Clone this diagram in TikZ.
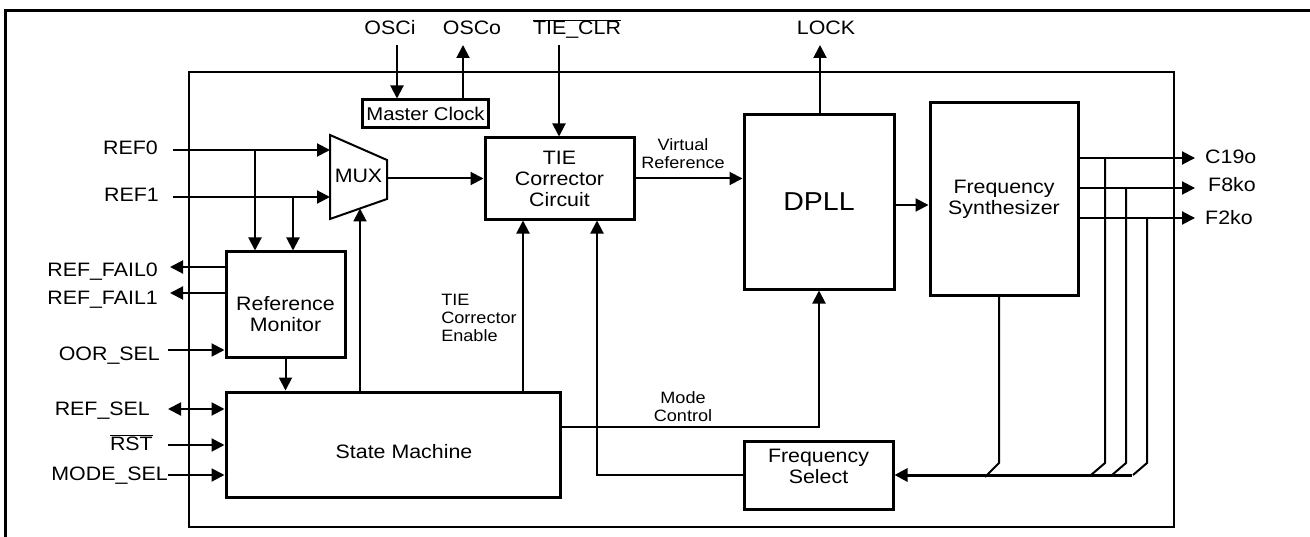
\documentclass[tikz,border=0pt]{standalone}
\usepackage{fontspec}
\setmainfont[FakeStretch=1.1]{Liberation Sans}
\usetikzlibrary{arrows.meta,positioning}

\tikzset{
  blk/.style={draw,line width=3bp,align=center,inner sep=0pt,font=\fontsize{19.5}{21}\selectfont},
  pin/.style={inner sep=0pt,font=\fontsize{19.5}{21}\selectfont},
  sig/.style={inner sep=0pt,align=center,font=\fontsize{16.5}{18}\selectfont},
  wire/.style={line width=2bp},
  arr/.style={wire,-{Triangle[length=13bp,width=13bp]}},
  dbl/.style={wire,{Triangle[length=13bp,width=13bp]}-{Triangle[length=13bp,width=13bp]}},
  bus/.style={line width=3bp},
}

\begin{document}
\begin{tikzpicture}[x=1bp,y=-1bp]
    \useasboundingbox (0,0) rectangle (1310,537);
    %\draw[help lines] (0,0) grid[step=50] (1310,537);
    \draw[line width=3bp] (5,537) -- (5,11) -- (1310,11);
    \draw[wire] (189,72) rectangle (1174,527);

    % blocks
    \node[blk,minimum width=126bp,minimum height=28bp,font=\fontsize{18.5}{21}\selectfont] (mclk) at (425.5,114) {Master Clock};
    \node[blk,minimum width=149bp,minimum height=81bp] (tie) at (559.5,178.5) {TIE\\Corrector\\Circuit};
    \node[blk,minimum width=150bp,minimum height=174bp,font=\fontsize{26}{28}\selectfont] (dpll) at (819,202) {DPLL};
    \node[blk,minimum width=148bp,minimum height=192bp] (fsyn) at (1004,199) {Frequency\\Synthesizer};
    \node[blk,minimum width=119bp,minimum height=105bp] (refmon) at (285.5,304.5) {};
    \node[blk,draw=none] (refmontxt) at ([yshift=-10bp]refmon.center) {Reference\\Monitor};
    \node[blk,minimum width=334bp,minimum height=105bp] (sm) at (393,444.5) {};
    \node[blk,draw=none] (smtxt) at ([xshift=11bp,yshift=-7bp]sm.center) {State Machine};
    \node[blk,minimum width=149bp,minimum height=68bp] (fsel) at (818.5,475) {};
    \node[blk,draw=none] (fseltxt) at ([yshift=9bp]fsel.center) {Frequency\\Select};

    % mux
    \draw[wire] (330,135) coordinate (muxtl) -- (387,160) -- (387,199) -- (330,219) -- cycle;
    \node[blk,draw=none] (mux) at (358.5,176) {MUX};

    % pins
    \node[pin,anchor=base] (osci) at (390,35) {OSCi};
    \node[pin,anchor=base] (osco) at (472,35) {OSCo};
    \node[pin,anchor=base] (tieclr) at (577,35) {$\overline{\hbox{TIE\_CLR}}$};
    \node[pin,anchor=base] (lock) at (826,35) {LOCK};
    \node[pin,anchor=base east] (ref0) at (158,155) {REF0};
    \node[pin,anchor=base east] (ref1) at (159,201.7) {REF1};
    \node[pin,anchor=base east] (fail0) at (158,276.7) {REF\_FAIL0};
    \node[pin,anchor=base east] (fail1) at (158,304) {REF\_FAIL1};
    \node[pin,anchor=base east] (oorsel) at (160,360) {OOR\_SEL};
    \node[pin,anchor=base east] (refsel) at (150,415) {REF\_SEL};
    \node[pin,anchor=base east] (rst) at (153,450) {$\overline{\hbox{RST}}$};
    \node[pin,anchor=base east] (modesel) at (168,480) {MODE\_SEL};
    \node[pin,anchor=base west] (c19o) at (1205,164) {C19o};
    \node[pin,anchor=base west] (f8ko) at (1208,191.7) {F8ko};
    \node[pin,anchor=base west] (f2ko) at (1205,224.3) {F2ko};

    % signal names
    \node[sig] (vref) at (683,154) {Virtual\\Reference};
    \node[sig] (modectl) at (683,406.5) {Mode\\Control};
    \node[sig,align=left] (tieen) at (479,318) {TIE\\Corrector\\Enable};

    % wire ends
    \coordinate (osciend) at (397,45);
    \coordinate (oscoend) at (463,45);
    \coordinate (clrend) at (559,45);
    \coordinate (lockend) at (820,45);
    \coordinate (ref0in) at (173,150);
    \coordinate (ref1in) at (173,197);
    \coordinate (tap0) at (255,150);
    \coordinate (tap1) at (293,197);
    \coordinate (fail0out) at (170,267);
    \coordinate (fail1out) at (170,293);
    \coordinate (oorin) at (168,350);
    \coordinate (selin) at (168,409);
    \coordinate (rstin) at (168,445);
    \coordinate (modein) at (168,475);
    \coordinate (muxsel) at (360,208.5);
    \coordinate (muxout) at (387,178.5);
    \coordinate (enwire) at (523,0);
    \coordinate (selwire) at (597,0);
    \coordinate (c19out) at (1195,158);
    \coordinate (f8out) at (1195,188);
    \coordinate (f2out) at (1195,218);
    \coordinate (busend) at (1132,475);

    % connectors
    \draw[arr] (osciend) -- (osciend |- mclk.north);
    \draw[arr] (oscoend |- mclk.north) -- (oscoend);
    \draw[arr] (clrend) -- (clrend |- tie.north);
    \draw[arr] (lockend |- dpll.north) -- (lockend);
    \draw[arr] (ref0in) -- (ref0in -| muxtl);
    \draw[arr] (ref1in) -- (ref1in -| muxtl);
    \draw[arr] (tap0) -- (tap0 |- refmon.north);
    \draw[arr] (tap1) -- (tap1 |- refmon.north);
    \draw[arr] (fail0out -| refmon.west) -- (fail0out);
    \draw[arr] (fail1out -| refmon.west) -- (fail1out);
    \draw[arr] (oorin) -- (oorin -| refmon.west);
    \draw[arr] (refmon.south) -- (refmon.south |- sm.north);
    \draw[dbl] (selin) -- (selin -| sm.west);
    \draw[arr] (rstin) -- (rstin -| sm.west);
    \draw[arr] (modein) -- (modein -| sm.west);
    \draw[arr] (muxsel |- sm.north) -- (muxsel);
    \draw[arr] (enwire |- sm.north) -- (enwire |- tie.south);
    \draw[arr] (muxout) -- (tie.west);
    \draw[arr] (tie.east) -- (tie.east -| dpll.west);
    \draw[arr] ([yshift=-3bp]dpll.east) -- ([yshift=-3bp]dpll.east -| fsyn.west);
    \draw[arr] ([yshift=17.5bp]sm.east) -| (dpll.south);
    \draw[arr] (fsel.west) -| (selwire |- tie.south);
    \draw[arr] (c19out -| fsyn.east) -- (c19out);
    \draw[arr] (f8out -| fsyn.east) -- (f8out);
    \draw[arr] (f2out -| fsyn.east) -- (f2out);
    \foreach \x/\o in {1105/c19out,1126/f8out,1147/f2out}
        \draw[wire] (\o -| \x,0) -- (\x,463) -- (\x-14,475);
    \draw[wire] (fsyn.south -| 999,0) -- (999,463) -- (985,477);
    \draw[bus,-{Triangle[length=13bp,width=13bp]}] (busend) -- (busend -| fsel.east);
\end{tikzpicture}
\end{document}
